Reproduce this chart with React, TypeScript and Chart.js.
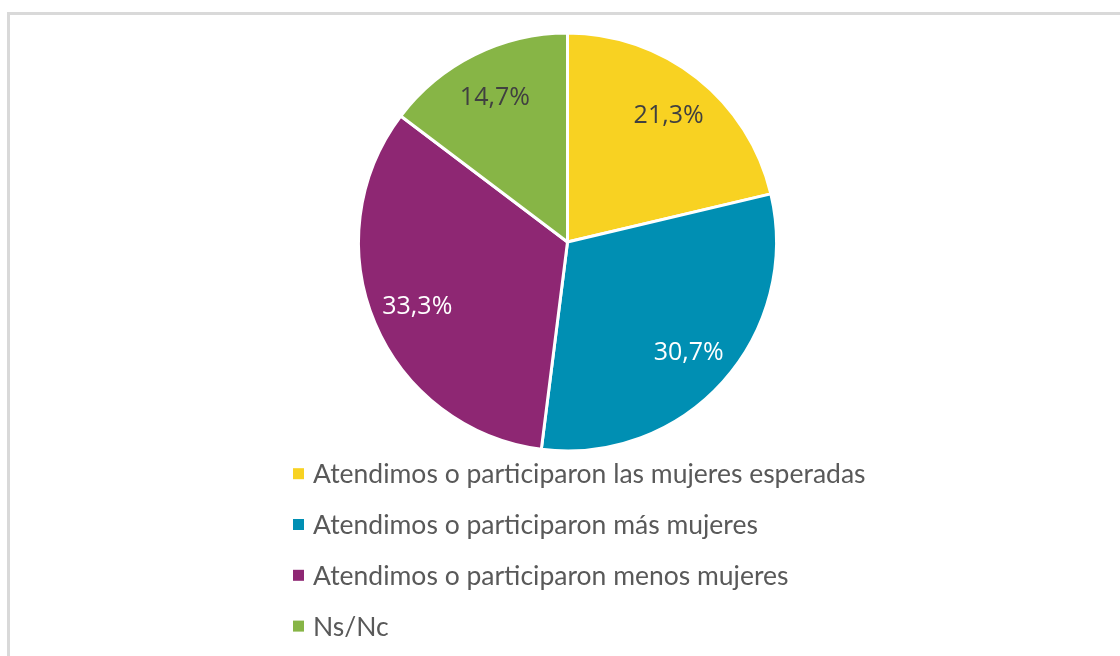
import React, { useEffect, useRef } from "react";
import { Chart, registerables } from "chart.js";

Chart.register(...registerables);

const categories = [
  "Atendimos o participaron las mujeres esperadas",
  "Atendimos o participaron más mujeres",
  "Atendimos o participaron menos mujeres",
  "Ns/Nc",
];
const values = [21.3, 30.7, 33.3, 14.7];
const valueLabels = ["21,3%", "30,7%", "33,3%", "14,7%"];
const colors = ["#F8D222", "#008FB3", "#8E2773", "#87B546"];
const labelColors = ["#404040", "#FFFFFF", "#FFFFFF", "#404040"];

const labelPlugin = {
  id: "sliceLabels",
  afterDatasetsDraw(chart: any) {
    const ctx = chart.ctx;
    const meta = chart.getDatasetMeta(0);
    ctx.save();
    ctx.font = "25px 'Open Sans'";
    ctx.textAlign = "center";
    ctx.textBaseline = "middle";
    meta.data.forEach((arc: any, i: number) => {
      const { x, y, startAngle, endAngle, outerRadius } = arc.getProps(
        ["x", "y", "startAngle", "endAngle", "outerRadius"],
        true
      );
      const mid = (startAngle + endAngle) / 2;
      const r = outerRadius * 0.78;
      ctx.fillStyle = labelColors[i];
      ctx.fillText(valueLabels[i], x + Math.cos(mid) * r, y + Math.sin(mid) * r + 2);
    });
    ctx.restore();
  },
};

const legendPlugin = {
  id: "blockLegend",
  afterDraw(chart: any) {
    const ctx = chart.ctx;
    const ds = chart.data.datasets[0];
    const left = 293;
    const top = 473.7;
    const step = 50.8;
    ctx.save();
    ctx.font = "26.5px Lato";
    ctx.textBaseline = "middle";
    ctx.textAlign = "left";
    (chart.data.labels as string[]).forEach((lab: string, i: number) => {
      const cy = top + i * step;
      ctx.fillStyle = ds.backgroundColor[i];
      ctx.fillRect(left, cy - 5.5, 11, 11);
      ctx.fillStyle = "#595959";
      ctx.fillText(lab, left + 20, cy + 1);
    });
    ctx.restore();
  },
};

export default function App() {
  const ref = useRef<HTMLCanvasElement | null>(null);
  useEffect(() => {
    document.body.style.overflow = "hidden";
    const chart = new Chart(ref.current as HTMLCanvasElement, {
      type: "pie",
      data: {
        labels: categories,
        datasets: [
          {
            data: values,
            backgroundColor: colors,
            borderColor: "#FFFFFF",
            borderWidth: 3,
          },
        ],
      },
      options: {
        animation: false,
        responsive: false,
        layout: {
          padding: { top: 31.5, bottom: 203.5, left: 356.5, right: 341.5 },
        },
        plugins: {
          legend: { display: false },
          tooltip: { enabled: false },
        },
      },
      plugins: [labelPlugin, legendPlugin],
    });
    return () => chart.destroy();
  }, []);
  return (
    <div>
      <div
        style={{
          position: "absolute",
          left: 7,
          top: 12,
          width: 1113,
          height: 644,
          boxSizing: "border-box",
          borderLeft: "3px solid #D9D9D9",
          borderTop: "3px solid #D9D9D9",
          background: "#FFFFFF",
        }}
      />
      <canvas
        ref={ref}
        width={1120}
        height={656}
        style={{ position: "absolute", left: 0, top: 0, width: 1120, height: 656 }}
      />
    </div>
  );
}
